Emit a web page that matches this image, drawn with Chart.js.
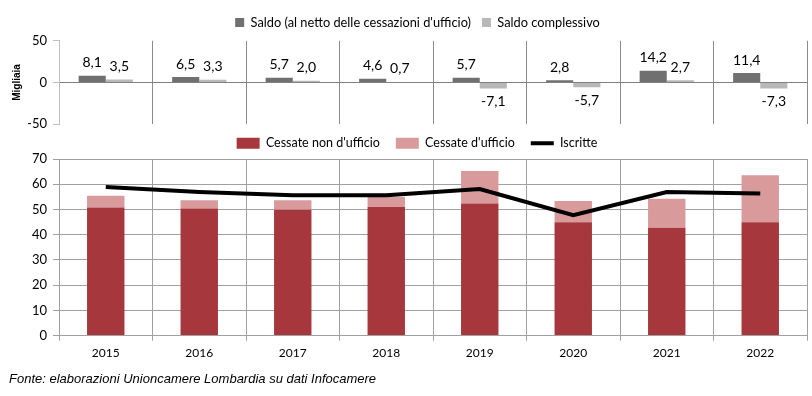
<!DOCTYPE html>
<html>
<head>
<meta charset="utf-8">
<script src="https://cdn.jsdelivr.net/npm/chart.js@4"></script>
<style>
  body { margin: 0; background: #fff; width: 812px; height: 396px; position: relative; overflow: hidden; }
  .box { position: absolute; left: 0; width: 812px; }
  #top { top: 0; height: 138px; }
  #bottom { top: 121px; height: 250px; }
  #source {
    position: absolute; left: 9px; top: 371px;
    font: italic 13px "Liberation Sans", Arial, sans-serif; color: #000;
  }
</style>
</head>
<body>
<div class="box" id="top"><canvas id="saldoChart"></canvas></div>
<div class="box" id="bottom"><canvas id="flowChart"></canvas></div>
<div id="source">Fonte: elaborazioni Unioncamere Lombardia su dati Infocamere</div>
<script>
// data (migliaia)
const years = ["2015", "2016", "2017", "2018", "2019", "2020", "2021", "2022"];
const saldoNetto = [8.1, 6.5, 5.7, 4.6, 5.7, 2.8, 14.2, 11.4];
const saldoComplessivo = [3.5, 3.3, 2.0, 0.7, -7.1, -5.7, 2.7, -7.3];
const cessateNonUfficio = [50.8, 50.4, 49.9, 51.0, 52.4, 44.9, 42.7, 44.9];
const cessateUfficio = [4.6, 3.2, 3.7, 3.9, 12.8, 8.5, 11.5, 18.7];
const iscritte = [58.9, 56.9, 55.6, 55.6, 58.1, 47.7, 56.9, 56.3];
const saldoTicks = [-50, 0, 50];

const FONT = "Lato, 'Open Sans', sans-serif";
Chart.defaults.font.family = FONT;
Chart.defaults.color = "#000";

const fmt = (v) => v.toFixed(1).replace(".", ",");

// value labels for the top chart
const barLabels = {
  id: "barLabels",
  afterDatasetsDraw(chart) {
    let ctx = chart.ctx;
    ctx.save();
    ctx.font = "14px " + FONT;
    ctx.fillStyle = "#000";
    ctx.textAlign = "center";
    ctx.textBaseline = "middle";
    chart.data.datasets.forEach((ds, i) => {
      chart.getDatasetMeta(i).data.forEach((bar, j) => {
        let v = ds.data[j];
        let y = v >= 0 ? bar.y - 13 : bar.y + 13;
        ctx.fillText(fmt(v), bar.x, y);
      });
    });
    ctx.restore();
  },
};

// "Migliaia" sits left of the axis, outside the layout padding
const unitLabel = {
  id: "unitLabel",
  afterDraw(chart) {
    let ctx = chart.ctx;
    let y = chart.scales.y.getPixelForValue(0);
    ctx.save();
    ctx.translate(17, y);
    ctx.rotate(-Math.PI / 2);
    ctx.font = "bold 10px 'Liberation Sans', Arial, sans-serif";
    ctx.fillStyle = "#000";
    ctx.textAlign = "center";
    ctx.textBaseline = "middle";
    ctx.fillText("Migliaia", 0, 0);
    ctx.restore();
  },
};

new Chart(document.getElementById("saldoChart"), {
  type: "bar",
  data: {
    labels: years,
    datasets: [
      {
        label: "Saldo (al netto delle cessazioni d'ufficio)",
        data: saldoNetto,
        backgroundColor: "#707070",
      },
      {
        label: "Saldo complessivo",
        data: saldoComplessivo,
        backgroundColor: "#b8b8b8",
      },
    ],
  },
  options: {
    responsive: true,
    maintainAspectRatio: false,
    animation: false,
    events: [],
    layout: { padding: { left: 28, right: 5, top: 5, bottom: 11 } },
    datasets: { bar: { categoryPercentage: 0.58, barPercentage: 1 } },
    plugins: {
      legend: {
        labels: { boxWidth: 9, boxHeight: 9, padding: 11, font: { size: 12.8 } },
      },
      tooltip: { enabled: false },
    },
    scales: {
      x: {
        grid: {
          offset: true,
          drawTicks: false,
          color: (c) => (c.index === 0 ? "transparent" : "#8c8c8c"),
        },
        border: { display: false },
        ticks: { display: false },
      },
      // empty spacer between legend and plot
      gap: {
        type: "category",
        position: "top",
        grid: { display: false },
        border: { display: false },
        ticks: { display: false },
        afterFit: (s) => { s.height = 2; },
      },
      y: {
        min: -50,
        max: 50,
        afterBuildTicks: (s) => { s.ticks = saldoTicks.map((v) => ({ value: v })); },
        afterFit: (s) => { s.width = 31; },
        grid: {
          color: (c) => (c.tick && c.tick.value === 0 ? "#808080" : "transparent"),
          tickColor: "#bfbfbf",
          tickLength: 6,
        },
        border: { color: "#bfbfbf" },
        ticks: { padding: 6, font: { size: 13 } },
      },
    },
  },
  plugins: [barLabels, unitLabel],
});

new Chart(document.getElementById("flowChart"), {
  type: "bar",
  data: {
    labels: years,
    datasets: [
      {
        label: "Cessate non d'ufficio",
        data: cessateNonUfficio,
        backgroundColor: "#a5373d",
        stack: "cessate",
        pointStyle: "rect",
        order: 1,
      },
      {
        label: "Cessate d'ufficio",
        data: cessateUfficio,
        backgroundColor: "#d99a9c",
        stack: "cessate",
        pointStyle: "rect",
        order: 1,
      },
      {
        type: "line",
        label: "Iscritte",
        data: iscritte,
        borderColor: "#000",
        backgroundColor: "#000",
        borderWidth: 4,
        pointRadius: 0,
        tension: 0,
        stack: "iscritte",
        pointStyle: "line",
        order: 0,
      },
    ],
  },
  options: {
    responsive: true,
    maintainAspectRatio: false,
    animation: false,
    events: [],
    layout: { padding: { left: 27, right: 5, top: 0, bottom: 6 } },
    datasets: { bar: { categoryPercentage: 1, barPercentage: 0.4 } },
    plugins: {
      legend: {
        maxHeight: 38,
        labels: {
          usePointStyle: true,
          pointStyleWidth: 23,
          boxHeight: 11,
          padding: 16,
          font: { size: 12.5 },
          sort: (a, b) => a.datasetIndex - b.datasetIndex,
        },
      },
      tooltip: { enabled: false },
    },
    scales: {
      x: {
        stacked: true,
        grid: { offset: true, color: "#a0a0a0", tickLength: 5 },
        border: { color: "#a0a0a0" },
        ticks: { padding: 5, font: { size: 12 } },
      },
      y: {
        stacked: true,
        min: 0,
        max: 70,
        ticks: { stepSize: 10, padding: 6, font: { size: 13 } },
        afterFit: (s) => { s.width = 32; },
        grid: { color: "#a0a0a0", tickLength: 6 },
        border: { color: "#a0a0a0" },
      },
    },
  },
});
</script>
</body>
</html>
